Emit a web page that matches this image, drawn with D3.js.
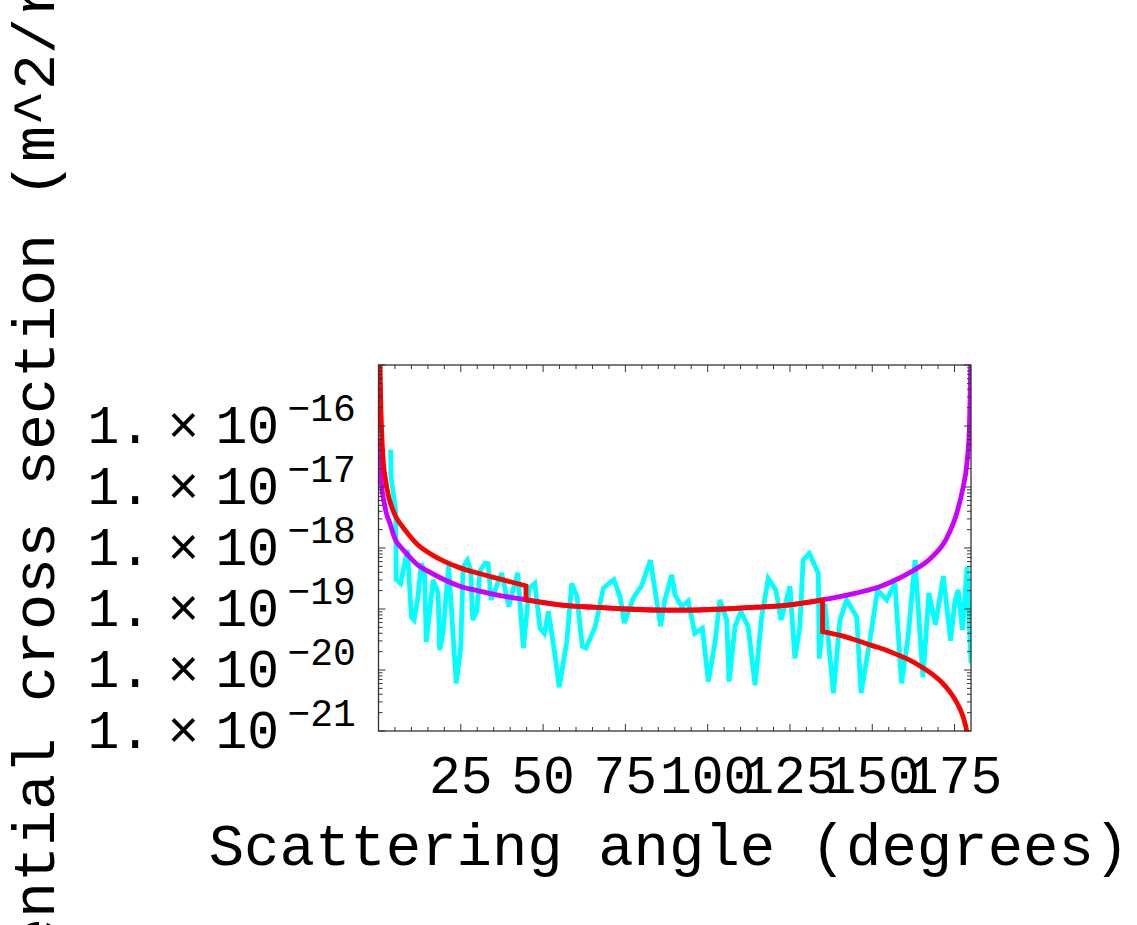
<!DOCTYPE html>
<html>
<head>
<meta charset="utf-8">
<script src="https://cdn.jsdelivr.net/npm/d3@7"></script>
<style>
  html, body { margin: 0; padding: 0; background: #ffffff; }
  svg { display: block; }
  text { font-family: "Liberation Mono", "DejaVu Sans Mono", monospace; fill: #000; }
</style>
</head>
<body>
<svg id="chart" width="1137" height="925"></svg>
<script>
// ---------------- data ----------------
// Scattering angle ticks (degrees)
const xTickValues = [25, 50, 75, 100, 125, 150, 175];
const yTickExponents = [-16, -17, -18, -19, -20, -21];

// Simulated (Monte Carlo) cross section: cyan
const simAngles = [3.7, 3.8, 5.2, 5.4, 6.7, 8.8, 10.0, 10.8, 12.0, 13.0, 14.0, 14.5, 16.6, 18.1, 18.6, 19.6,
  21.3, 23.6, 25.0, 25.7, 27.0, 28.0, 28.6, 29.9, 30.8, 32.4, 33.3, 34.2, 35.4, 37.4, 39.6, 41.0, 42.3, 44.0,
  45.8, 47.5, 49.1, 50.4, 51.6, 53.6, 54.9, 57.2, 58.7, 60.3, 61.9, 63.0, 65.8, 68.3, 71.5, 73.4, 74.7, 77.4,
  80.0, 82.6, 85.7, 87.0, 89.1, 90.1, 92.1, 94.1, 96.1, 98.4, 100.2, 102.2, 103.7, 105.8, 106.5, 108.3, 110.1,
  112.3, 114.4, 116.4, 118.4, 120.7, 122.3, 125.0, 126.5, 128.0, 129.0, 130.9, 133.6, 133.9, 135.6, 138.2,
  140.2, 142.2, 145.3, 146.6, 149.3, 151.6, 154.4, 156.9, 158.9, 160.9, 163.0, 165.4, 167.2, 169.2, 171.6,
  173.8, 175.1, 176.1, 177.4, 178.8, 180.0];
const simValues = [4.07e-17, 1.45e-17, 4.17e-18, 3.02e-19, 2.63e-19, 9.33e-19, 7.41e-20, 6.61e-20, 1.58e-19,
  5.62e-19, 4.07e-19, 2.88e-20, 3.02e-19, 1.82e-19, 2.14e-20, 4.07e-20, 5.25e-19, 6.03e-21, 2.40e-20, 4.90e-19,
  6.31e-19, 4.37e-19, 6.61e-20, 9.33e-20, 4.17e-19, 5.62e-19, 5.50e-19, 1.41e-19, 2.04e-19, 3.89e-19, 1.10e-19,
  2.19e-19, 3.89e-19, 2.29e-20, 2.19e-19, 2.63e-19, 4.79e-20, 3.98e-20, 9.12e-20, 1.78e-20, 5.25e-21, 2.88e-20,
  2.63e-19, 1.58e-19, 2.45e-20, 2.29e-20, 5.01e-20, 2.19e-19, 3.02e-19, 1.58e-19, 5.89e-20, 1.51e-19, 2.45e-19,
  6.31e-19, 5.25e-20, 1.41e-19, 3.63e-19, 1.70e-19, 1.10e-19, 1.35e-19, 3.98e-20, 4.79e-20, 6.46e-21, 2.75e-20,
  1.41e-19, 6.61e-20, 6.46e-21, 5.13e-20, 9.12e-20, 5.13e-20, 5.62e-21, 7.41e-20, 3.16e-19, 2.04e-19, 6.61e-20,
  2.34e-19, 1.55e-20, 5.13e-20, 6.31e-19, 8.13e-19, 3.89e-19, 1.55e-20, 1.23e-19, 4.17e-21, 6.61e-20, 1.41e-19,
  7.41e-20, 4.17e-21, 3.09e-20, 2.04e-19, 1.41e-19, 2.63e-19, 6.03e-21, 3.55e-20, 6.31e-19, 7.59e-21, 1.82e-19,
  5.50e-20, 3.47e-19, 3.02e-20, 1.32e-19, 2.04e-19, 4.57e-20, 4.90e-19, 1.29e-20];

// Theoretical curve: purple
const purpleAngles = [0.15, 0.5, 1.0, 1.7, 2.5, 3.5, 5, 7, 9, 12, 15, 20, 25, 30, 37, 45, 55, 65, 75, 90,
  105, 115, 125, 135, 145, 152, 158, 162.5, 167.5, 172.5, 175.5, 177.5, 178.8, 179.5, 179.75, 179.9];
const purpleValues = [6.31e-17, 2.51e-17, 1.0e-17, 5.62e-18, 3.55e-18, 2.51e-18, 1.41e-18, 1.0e-18, 7.59e-19,
  5.25e-19, 4.17e-19, 3.02e-19, 2.34e-19, 2.0e-19, 1.66e-19, 1.41e-19, 1.17e-19, 1.07e-19, 1.0e-19, 9.55e-20,
  1.0e-19, 1.07e-19, 1.17e-19, 1.41e-19, 1.82e-19, 2.29e-19, 3.16e-19, 4.27e-19, 6.61e-19, 1.41e-18, 3.47e-18,
  9.33e-18, 2.57e-17, 9.12e-17, 3.16e-16, 1.0e-15];

// Theoretical curve with steps: red (repeated angle = vertical step)
const redAngles = [0.3, 0.76, 1.46, 2.2, 3.0, 4.0, 5.0, 7.0, 9.0, 12, 15, 20, 25, 30, 37, 44.8,
  44.8, 55, 65, 75, 90, 105, 115, 125, 134.9,
  134.9, 140, 144.5, 150, 154.5, 158, 161.4, 165, 168.5, 171.1, 173.6, 175.1, 176.6, 178.2, 178.7, 179.0];
const redValues = [2.5e-15, 1.70e-16, 2.57e-17, 1.26e-17, 7.24e-18, 4.79e-18, 3.47e-18, 2.34e-18, 1.70e-18,
  1.12e-18, 8.51e-19, 6.03e-19, 4.68e-19, 3.89e-19, 3.09e-19, 2.40e-19,
  1.41e-19, 1.17e-19, 1.07e-19, 1.0e-19, 9.55e-20, 1.0e-19, 1.07e-19, 1.17e-19, 1.41e-19,
  4.27e-20, 3.72e-20, 3.16e-20, 2.51e-20, 2.09e-20, 1.74e-20, 1.45e-20, 1.12e-20, 8.32e-21, 6.31e-21,
  4.37e-21, 3.31e-21, 2.34e-21, 1.32e-21, 9.77e-22, 6.3e-22];

const xTitle = "Scattering angle (degrees)";
const yTitle = "Differential cross section (m^2/rad)";

// ---------------- chart ----------------
const svg = d3.select("#chart");
const x0 = 378.5, x1 = 971, yTop = 365, yBot = 731;

const x = d3.scaleLinear().domain([0, 180]).range([x0, x1]);
const y = d3.scaleLog().domain([1e-21, 1e-15]).range([yBot, yTop]);

svg.append("defs").append("clipPath").attr("id", "plotclip")
  .append("rect").attr("x", x0).attr("y", yTop).attr("width", x1 - x0).attr("height", yBot - yTop);

// lines
const plot = svg.append("g").attr("clip-path", "url(#plotclip)");
const zip = (a, b) => a.map((v, i) => [v, b[i]]);

const linLine = d3.line().x(d => x(d[0])).y(d => y(d[1])).curve(d3.curveLinear);
const smoothLine = d3.line().x(d => x(d[0])).y(d => y(d[1])).curve(d3.curveMonotoneX);

const LW = 4.8;
plot.append("path")
  .attr("d", linLine(zip(simAngles, simValues)))
  .attr("fill", "none").attr("stroke", "#00FFFF").attr("stroke-width", LW)
  .attr("stroke-linejoin", "miter").attr("stroke-miterlimit", 3);

plot.append("path")
  .attr("d", smoothLine(zip(purpleAngles, purpleValues)))
  .attr("fill", "none").attr("stroke", "#CC00FF").attr("stroke-width", LW);

// red: split into segments at repeated angles, join with vertical steps
const redPts = zip(redAngles, redValues);
const segs = [];
let cur = [];
redPts.forEach((p, i) => {
  if (i > 0 && p[0] === redPts[i - 1][0]) { segs.push(cur); cur = []; }
  cur.push(p);
});
segs.push(cur);
const redD = segs.map((s, i) => {
  const d = smoothLine(s);
  return i === 0 ? d : "L" + d.slice(1);
}).join("");
plot.append("path")
  .attr("d", redD)
  .attr("fill", "none").attr("stroke", "#FF0000").attr("stroke-width", LW)
  .attr("stroke-linejoin", "miter");

// frame
const frame = svg.append("g");
frame.append("rect").attr("x", x0).attr("y", yTop).attr("width", x1 - x0).attr("height", yBot - yTop)
  .attr("fill", "none").attr("stroke", "#333").attr("stroke-width", 1.3);

const majLen = 7, minLen = 4;
const tickStroke = "#333";
// x ticks (bottom & top)
const xMinor = d3.range(5, 180, 5).filter(v => v % 25 !== 0);
[[yBot, -1], [yTop, 1]].forEach(([yy, dir]) => {
  frame.selectAll(null).data(xTickValues).enter().append("line")
    .attr("x1", d => x(d)).attr("x2", d => x(d))
    .attr("y1", yy).attr("y2", yy + dir * majLen)
    .attr("stroke", tickStroke).attr("stroke-width", 1);
  frame.selectAll(null).data(xMinor).enter().append("line")
    .attr("x1", d => x(d)).attr("x2", d => x(d))
    .attr("y1", yy).attr("y2", yy + dir * minLen)
    .attr("stroke", tickStroke).attr("stroke-width", 1);
});
// y ticks (left & right)
const yMajor = d3.range(-21, -14).map(e => Math.pow(10, e));
const yMinor = [];
d3.range(-21, -15).forEach(e => { for (let k = 2; k <= 9; k++) yMinor.push(k * Math.pow(10, e)); });
[[x0, 1], [x1, -1]].forEach(([xx, dir]) => {
  frame.selectAll(null).data(yMajor).enter().append("line")
    .attr("x1", xx).attr("x2", xx + dir * majLen)
    .attr("y1", d => y(d)).attr("y2", d => y(d))
    .attr("stroke", tickStroke).attr("stroke-width", 1);
  frame.selectAll(null).data(yMinor).enter().append("line")
    .attr("x1", xx).attr("x2", xx + dir * minLen)
    .attr("y1", d => y(d)).attr("y2", d => y(d))
    .attr("stroke", tickStroke).attr("stroke-width", 1);
});

// x tick labels
svg.append("g").selectAll("text").data(xTickValues).enter().append("text")
  .attr("x", d => x(d)).attr("y", yBot + 62)
  .attr("text-anchor", "middle").attr("font-size", 53)
  .text(d => d);

// y tick labels: 1.×10^-n
const yl = svg.append("g").selectAll("g").data(yTickExponents).enter().append("g")
  .attr("transform", e => `translate(0,${y(Math.pow(10, e)) + 17})`);
yl.append("text").attr("x", x0 - 291).attr("y", 0).attr("font-size", 53).text("1.");
yl.append("text").attr("x", x0 - 211).attr("y", 0).attr("font-size", 53).text("\u00D7");
yl.append("text").attr("x", x0 - 163).attr("y", 0).attr("font-size", 53).text("10");
yl.append("text").attr("x", x0 - 91).attr("y", -22).attr("font-size", 38).text(e => "\u2212" + Math.abs(e));

// axis titles
svg.append("text").attr("x", 669).attr("y", 865).attr("text-anchor", "middle")
  .attr("font-size", 59).text(xTitle);
svg.append("text").attr("transform", "translate(54,522) rotate(-90)")
  .attr("text-anchor", "middle").attr("font-size", 60).text(yTitle);
</script>
</body>
</html>
